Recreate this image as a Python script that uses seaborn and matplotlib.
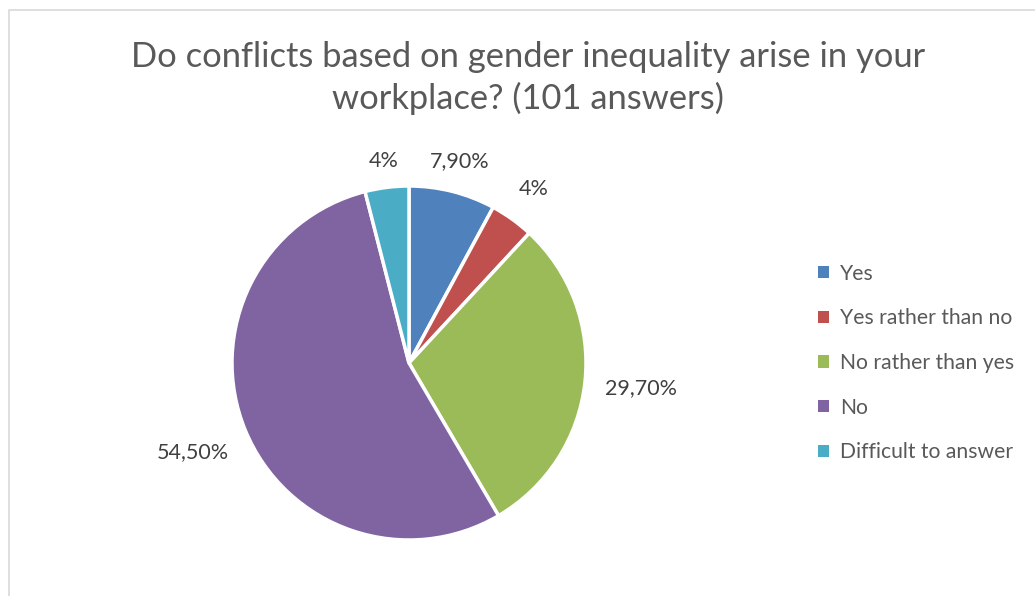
import matplotlib
matplotlib.use("Agg")
import matplotlib.pyplot as plt
from matplotlib.patches import Patch, Rectangle
import seaborn as sns
import numpy as np

categories = ["Yes", "Yes rather than no", "No rather than yes", "No", "Difficult to answer"]
values = [7.9, 4.0, 29.7, 54.5, 4.0]
value_labels = ["7,90%", "4%", "29,70%", "54,50%", "4%"]
title = "Do conflicts based on gender inequality arise in your\nworkplace? (101 answers)"

sns.set_theme(style="white")
plt.rcParams['font.family'] = ['Lato', 'DejaVu Sans']
colors = ["#4F81BD", "#C0504D", "#9BBB59", "#8064A2", "#4BACC6"]

W, H = 1035, 596
fig = plt.figure(figsize=(W / 100, H / 100), dpi=100)
fig.patch.set_facecolor("white")

# frame
fig.patches.append(Rectangle((9 / W, -0.1), 1.2, (H - 10) / H + 0.1, transform=fig.transFigure,
                             fill=False, edgecolor="#d9d9d9", linewidth=1.2))

cx, cy, r = 409, 363, 177
ax = fig.add_axes([(cx - r) / W, (H - cy - r) / H, 2 * r / W, 2 * r / H])
wedges, _ = ax.pie(values, colors=colors, startangle=90, counterclock=False,
                   wedgeprops=dict(edgecolor="white", linewidth=2.5))
ax.set_xlim(-1, 1)
ax.set_ylim(-1, 1)
ax.set_aspect("equal")
ax.axis("off")

dists = [1.175, 1.21, 1.32, 1.32, 1.15]
for w, lab, d in zip(wedges, value_labels, dists):
    ang = np.deg2rad((w.theta1 + w.theta2) / 2)
    ax.text(d * np.cos(ang), d * np.sin(ang), lab, ha="center", va="center",
            fontsize=15.5, color="#404040", clip_on=False)

fig.text(528 / W, 1 - 78 / H, title, ha="center", va="center", fontsize=24.8,
         color="#595959", linespacing=1.3)

handles = [Patch(facecolor=c, edgecolor="none", label=l) for c, l in zip(colors, categories)]
fig.legend(handles=handles, loc="center left", bbox_to_anchor=(799 / W, 1 - 363 / H),
           frameon=False, fontsize=15.2, labelcolor="#595959", handlelength=0.5,
           handleheight=0.5, handletextpad=0.55, labelspacing=1.17)

fig.savefig("out.png", dpi=100, facecolor="white")
